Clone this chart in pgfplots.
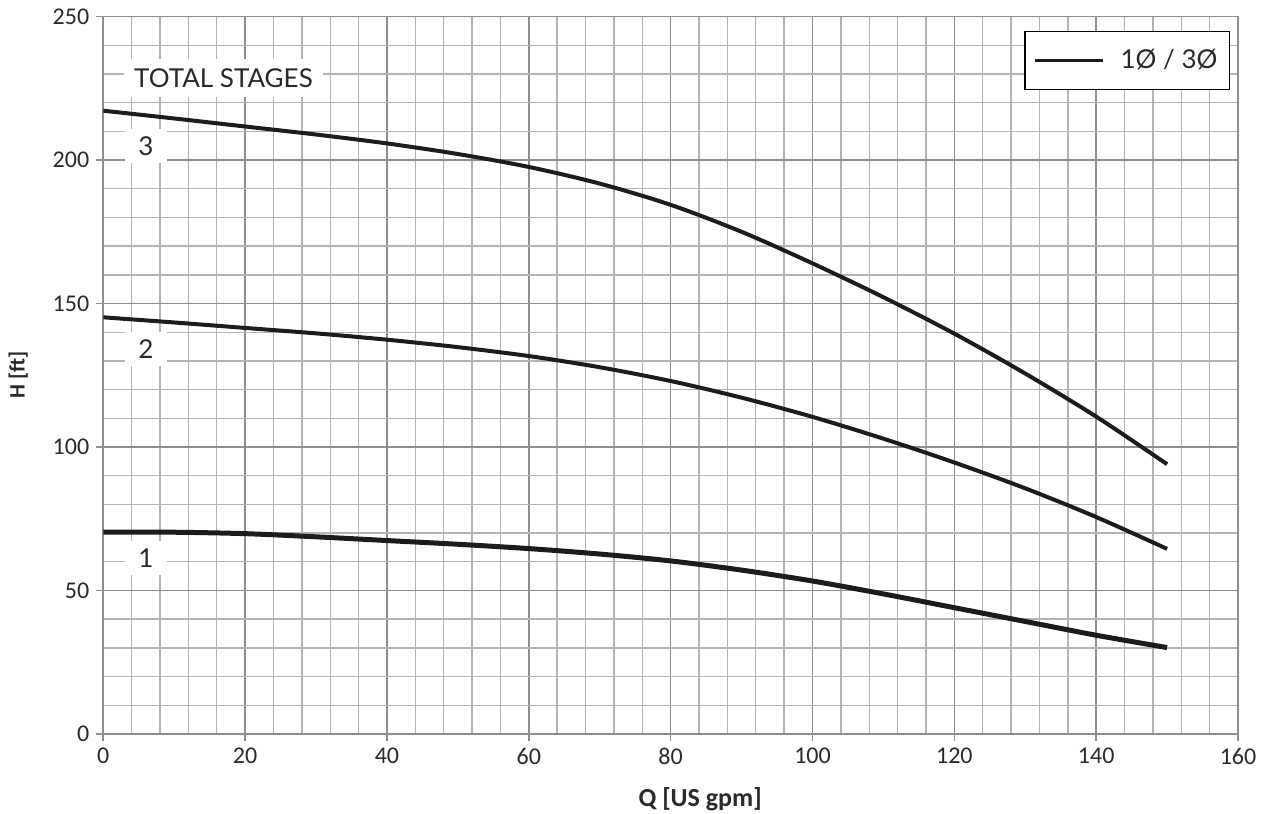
\documentclass[border=0pt]{standalone}
\usepackage{fontspec}
\setmainfont{Carlito}
\newfontfamily\lato{Lato}
\usepackage{pgfplots}
\pgfplotsset{compat=1.18}
\definecolor{gridc}{HTML}{B4B4B4}
\definecolor{gridm}{HTML}{8E8E8E}
\definecolor{curve}{HTML}{1C1C1C}
\definecolor{txt}{HTML}{2A2A2A}
\begin{document}
\begin{tikzpicture}
\begin{axis}[
  scale only axis, width=567.4pt, height=358.7pt,
  xmin=0, xmax=160, ymin=0, ymax=250,
  xtick={0,20,...,160}, ytick={0,50,...,250},
  minor x tick num=4, minor y tick num=4,
  grid=both,
  major grid style={gridm, line width=0.8pt},
  minor grid style={gridc, line width=0.7pt},
  axis line style={gridm, line width=0.9pt},
  tick style={gridm, line width=0.8pt},
  major tick length=3.5pt, minor tick length=0pt,
  tick align=outside,
  xtick pos=left, ytick pos=left,
  tick label style={font=\fontsize{12}{14}\selectfont, text=txt},
  /pgf/number format/assume math mode=true,
  xlabel={\bfseries Q [US gpm]}, ylabel={\bfseries H [ft]},
  xlabel style={at={(axis description cs:0.526,-0.0906)}, anchor=center, font=\fontsize{13}{15}\selectfont, text=txt},
  ylabel style={at={(axis description cs:-0.0749,0.5)}, anchor=center, font=\fontsize{11}{13}\selectfont, text=txt},
  legend style={at={(axis description cs:1,1)}, anchor=north east, xshift=-4pt, yshift=-7pt,
    draw=black, line width=0.6pt, font=\lato\fontsize{13}{15}\selectfont, text=txt,
    inner xsep=4pt, inner ysep=7pt, fill=white},
  legend cell align=left,
  legend image code/.code={\draw[#1, line width=1.5pt] (0pt,0pt) -- (34pt,0pt); \path (40pt,0pt);},
]
\addplot[curve, line width=2pt, smooth] coordinates {
(0,217.2)(10,214.5)(20,211.7)(30,208.9)(40,205.8)(50,202.1)(60,197.6)(70,191.8)
(80,184.4)(90,175.0)(100,164.0)(110,152.2)(120,139.5)(130,125.6)(140,110.6)(150,94.0)};
\addlegendentry{1Ø / 3Ø}
\addplot[curve, line width=2pt, smooth, forget plot] coordinates {
(0,145.2)(10,143.4)(20,141.5)(30,139.6)(40,137.4)(50,134.8)(60,131.7)(70,127.8)
(80,123.0)(90,117.2)(100,110.5)(110,102.9)(120,94.6)(130,85.6)(140,75.6)(150,64.5)};
\addplot[curve, line width=2.5pt, smooth, forget plot] coordinates {
(0,70.3)(10,70.3)(20,69.8)(30,68.7)(40,67.4)(50,66.1)(60,64.6)(70,62.7)
(80,60.3)(90,57.1)(100,53.3)(110,48.8)(120,44.0)(130,39.2)(140,34.4)(150,30.1)};
\node[fill=white, inner sep=0pt, minimum width=99.5pt, minimum height=19.5pt, text=txt,
  font=\lato\fontsize{13}{15}\selectfont] at (axis cs:16.95,228.6) {TOTAL STAGES};
\node[fill=white, inner sep=0pt, minimum width=21pt, minimum height=17pt, text=txt,
  font=\lato\fontsize{13}{15}\selectfont] at (axis cs:6.02,204.8) {3};
\node[fill=white, inner sep=0pt, minimum width=21pt, minimum height=17pt, text=txt,
  font=\lato\fontsize{13}{15}\selectfont] at (axis cs:6.02,134.1) {2};
\node[fill=white, inner sep=0pt, minimum width=21pt, minimum height=17pt, text=txt,
  font=\lato\fontsize{13}{15}\selectfont] at (axis cs:6.02,61.3) {1};
\end{axis}
\pgfresetboundingbox
\path ([xshift=-51.65pt,yshift=-40pt]current axis.south west) rectangle ([xshift=11.5pt,yshift=8.3pt]current axis.north east);
\end{tikzpicture}
\end{document}
